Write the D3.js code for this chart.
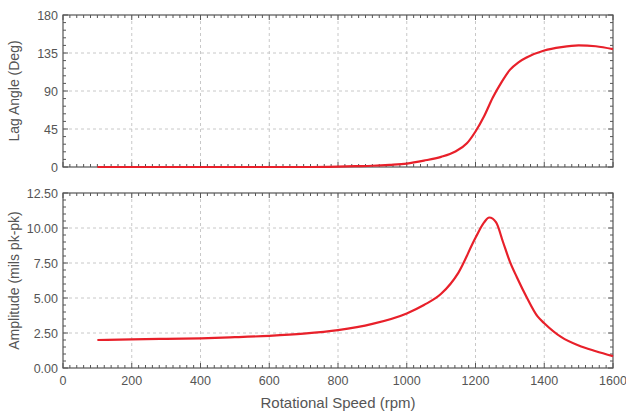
<!DOCTYPE html>
<html><head><meta charset="utf-8">
<script src="https://cdn.jsdelivr.net/npm/d3@7"></script>
<style>body{margin:0;background:#fff}svg{display:block}text{font-family:"Liberation Sans",Arial,sans-serif;fill:#555}</style>
</head><body><svg id="c" width="626" height="415"></svg>
<script>
const lagRpm = [100,200,300,400,500,600,700,800,850,900,950,1000,1050,1100,1140,1175,1200,1225,1250,1275,1300,1325,1350,1400,1450,1500,1550,1600];
const lagDeg = [0,0,0,0,0,0,0,0.5,1,1.5,2.5,4,7.5,12,18,28,42,60,82,100,115,124,130,138,142,144,143,139.5];
const ampRpm = [100,200,300,400,500,600,700,800,900,1000,1050,1100,1150,1200,1225,1240,1260,1280,1300,1320,1350,1380,1400,1450,1500,1550,1600];
const ampVal = [2.0,2.05,2.08,2.12,2.2,2.3,2.45,2.7,3.15,3.9,4.5,5.3,6.8,9.3,10.4,10.75,10.4,9.0,7.6,6.5,5.0,3.7,3.2,2.2,1.6,1.2,0.85];
const xTicks = [0,200,400,600,800,1000,1200,1400,1600];
const lagTicks = [0,45,90,135,180];
const ampTicks = [0,2.5,5,7.5,10,12.5];

const svg = d3.select("#c");
const L = 63, R = 613;
const x = d3.scaleLinear().domain([0,1600]).range([L,R]);

function panel(top, bottom, yDomain, yTicks, yMinorStep, fmt, title, xs, ys, showX) {
  const y = d3.scaleLinear().domain(yDomain).range([bottom, top]);
  const g = svg.append("g");
  g.selectAll(".gx").data(xTicks.slice(1,-1)).join("line")
    .attr("x1", d=>x(d)).attr("x2", d=>x(d)).attr("y1", top).attr("y2", bottom)
    .attr("stroke","#c8c8c8").attr("stroke-dasharray","3,3");
  g.selectAll(".gy").data(yTicks.slice(1,-1)).join("line")
    .attr("x1", L).attr("x2", R).attr("y1", d=>y(d)).attr("y2", d=>y(d))
    .attr("stroke","#c8c8c8").attr("stroke-dasharray","3,3");
  const xm = d3.range(0, 1601, 20);
  const ym = d3.range(yDomain[0], yDomain[1] + 1e-9, yMinorStep);
  const tk = g.append("g").attr("stroke","#555").attr("stroke-width",1);
  xm.forEach(v => {
    const len = xTicks.includes(v) ? 5 : 3;
    tk.append("line").attr("x1",x(v)).attr("x2",x(v)).attr("y1",bottom).attr("y2",bottom-len);
    tk.append("line").attr("x1",x(v)).attr("x2",x(v)).attr("y1",top).attr("y2",top+len);
  });
  ym.forEach(v => {
    const len = yTicks.some(t=>Math.abs(t-v)<1e-6) ? 5 : 3;
    tk.append("line").attr("x1",L).attr("x2",L+len).attr("y1",y(v)).attr("y2",y(v));
    tk.append("line").attr("x1",R).attr("x2",R-len).attr("y1",y(v)).attr("y2",y(v));
  });
  g.append("rect").attr("x",L).attr("y",top).attr("width",R-L).attr("height",bottom-top)
    .attr("fill","none").attr("stroke","#555").attr("stroke-width",1.2);
  g.selectAll(".yl").data(yTicks).join("text")
    .attr("x", L-5).attr("y", d=>y(d)+4.5).attr("text-anchor","end")
    .attr("font-size",12.5).text(fmt);
  if (showX) {
    g.selectAll(".xl").data(xTicks).join("text")
      .attr("x", d=>x(d)).attr("y", bottom+17).attr("text-anchor","middle")
      .attr("font-size",12.5).text(d=>d);
  }
  g.append("text").attr("transform",`translate(19,${(top+bottom)/2}) rotate(-90)`)
    .attr("text-anchor","middle").attr("font-size",14).text(title);
  const line = d3.line().x((d,i)=>x(xs[i])).y(d=>y(d)).curve(d3.curveMonotoneX);
  g.append("path").datum(ys).attr("d",line).attr("fill","none")
    .attr("stroke","#e8202a").attr("stroke-width",2.2).attr("stroke-linejoin","round");
}

panel(15, 167, [0,180], lagTicks, 9, d=>d, "Lag Angle (Deg)", lagRpm, lagDeg, false);
panel(193, 368, [0,12.5], ampTicks, 0.5, d=>d.toFixed(2), "Amplitude (mils pk-pk)", ampRpm, ampVal, true);

svg.append("text").attr("x",(L+R)/2).attr("y",408).attr("text-anchor","middle")
  .attr("font-size",15).text("Rotational Speed (rpm)");
</script></body></html>
